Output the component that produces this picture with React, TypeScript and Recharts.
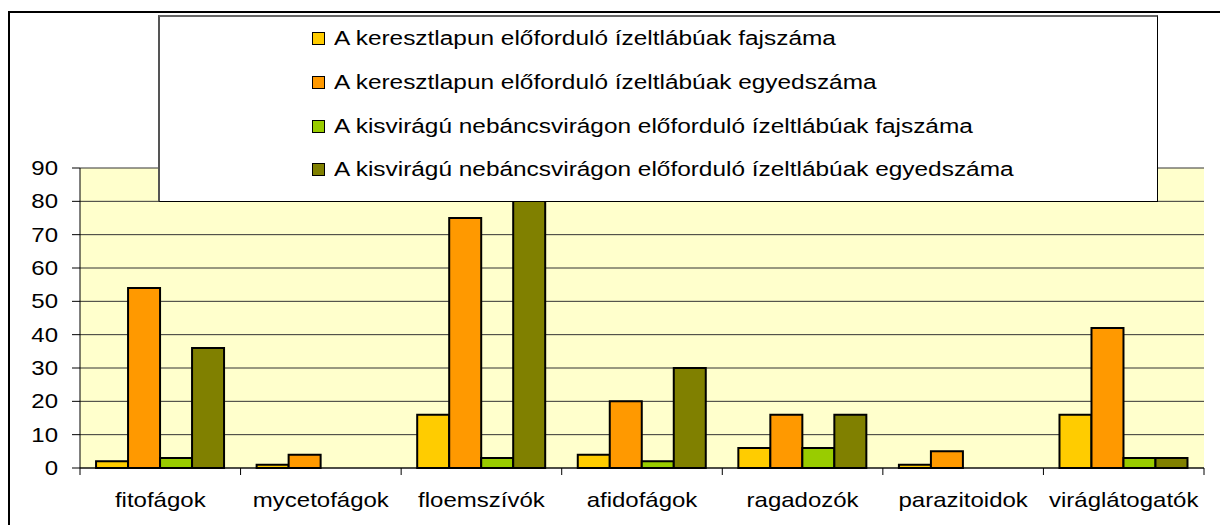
import { BarChart, Bar, XAxis, YAxis, CartesianGrid, Legend } from 'recharts';

// kategóriák és értékek
const categories = ['fitofágok', 'mycetofágok', 'floemszívók', 'afidofágok', 'ragadozók', 'parazitoidok', 'viráglátogatók'];
const keresztFaj = [2, 1, 16, 4, 6, 1, 16];
const keresztEgyed = [54, 4, 75, 20, 16, 5, 42];
const kisviraguFaj = [3, null, 3, 2, 6, null, 3];
const kisviraguEgyed = [36, null, 85, 30, 16, null, 3];
const yTicks = [0, 10, 20, 30, 40, 50, 60, 70, 80, 90];

const seriesNames = [
  'A keresztlapun előforduló ízeltlábúak fajszáma',
  'A keresztlapun előforduló ízeltlábúak egyedszáma',
  'A kisvirágú nebáncsvirágon előforduló ízeltlábúak fajszáma',
  'A kisvirágú nebáncsvirágon előforduló ízeltlábúak egyedszáma',
];
const seriesColors = ['#FFCC00', '#FF9900', '#99CC00', '#808000'];

const data = categories.map((name, i) => ({
  name,
  s0: keresztFaj[i],
  s1: keresztEgyed[i],
  s2: kisviraguFaj[i],
  s3: kisviraguEgyed[i],
}));

const FONT = '"Liberation Sans", Arial, sans-serif';
const STRETCH = 1.2; // az eredeti kép vízszintesen nyújtott
const X_TICK_SIZE = 7;
const X_TICK_MARGIN = 18;

const CategoryTick = (props: any) => {
  const { x, y, payload, index, visibleTicksCount } = props;
  const half = payload?.offset ?? 80;
  const axisY = y - X_TICK_SIZE - X_TICK_MARGIN;
  return (
    <g>
      <line x1={x - half} x2={x - half} y1={axisY} y2={axisY + X_TICK_SIZE} stroke="#000" />
      {index === visibleTicksCount - 1 && (
        <line x1={x + half} x2={x + half} y1={axisY} y2={axisY + X_TICK_SIZE} stroke="#000" />
      )}
      <text
        transform={`translate(${x},${y}) scale(${STRETCH},1)`}
        dy="0.71em"
        textAnchor="middle"
        fill="#000"
        fontSize={20}
        fontFamily={FONT}
      >
        {payload.value}
      </text>
    </g>
  );
};

const ValueTick = (props: any) => {
  const { x, y, payload } = props;
  return (
    <text
      transform={`translate(${x},${y}) scale(${STRETCH},1)`}
      dy="0.355em"
      textAnchor="end"
      fill="#000"
      fontSize={20}
      fontFamily={FONT}
    >
      {payload.value}
    </text>
  );
};

const LegendBox = () => (
  <div
    style={{
      width: 1000,
      height: 187,
      boxSizing: 'border-box',
      background: '#fff',
      border: '1px solid #000',
      borderTop: '2px solid #666',
      borderLeft: '2px solid #555',
      paddingTop: 0,
      fontFamily: FONT,
      fontSize: 20,
      color: '#000',
    }}
  >
    {seriesNames.map((name, i) => (
      <div key={name} style={{ height: 43.7, display: 'flex', alignItems: 'center', paddingLeft: 152 }}>
        <span
          style={{
            display: 'inline-block',
            width: 11,
            height: 11,
            background: seriesColors[i],
            border: '1px solid #000',
            marginRight: 9,
          }}
        />
        <span style={{ display: 'inline-block', transform: 'scaleX(1.22)', transformOrigin: 'left center', whiteSpace: 'nowrap' }}>
          {name}
        </span>
      </div>
    ))}
  </div>
);

export default function App() {
  return (
    <div style={{ position: 'absolute', left: 0, top: 0, width: 1220, height: 525, overflow: 'hidden', background: '#fff' }}>
      <div
        style={{
          position: 'absolute',
          left: 8,
          top: 11,
          width: 1300,
          height: 600,
          borderLeft: '2px solid #000',
          borderTop: '2px solid #000',
        }}
      />
      <div style={{ position: 'absolute', left: 0, top: 0 }}>
        <BarChart
          width={1220}
          height={525}
          data={data}
          margin={{ top: 168, right: 16, bottom: 27, left: 0 }}
          barCategoryGap="10%"
          barGap={0}
        >
          <CartesianGrid vertical={false} stroke="#333" fill="#FFFFCC" fillOpacity={1} />
          <XAxis
            dataKey="name"
            height={30}
            axisLine={{ stroke: '#000' }}
            tickLine={false}
            tickSize={X_TICK_SIZE}
            tickMargin={X_TICK_MARGIN}
            tick={<CategoryTick />}
            interval={0}
          />
          <YAxis
            width={80}
            domain={[0, 90]}
            ticks={yTicks}
            interval={0}
            axisLine={{ stroke: '#000' }}
            tickLine={{ stroke: '#000' }}
            tickSize={8}
            tickMargin={14}
            tick={<ValueTick />}
          />
          <Legend
            layout="vertical"
            align="center"
            verticalAlign="middle"
            content={() => <LegendBox />}
            wrapperStyle={{ left: 158, top: 15, width: 1000, height: 187 }}
          />
          {seriesColors.map((color, i) => (
            <Bar
              key={i}
              dataKey={`s${i}`}
              name={seriesNames[i]}
              fill={color}
              stroke="#000"
              strokeWidth={2}
              isAnimationActive={false}
            />
          ))}
        </BarChart>
      </div>
    </div>
  );
}
